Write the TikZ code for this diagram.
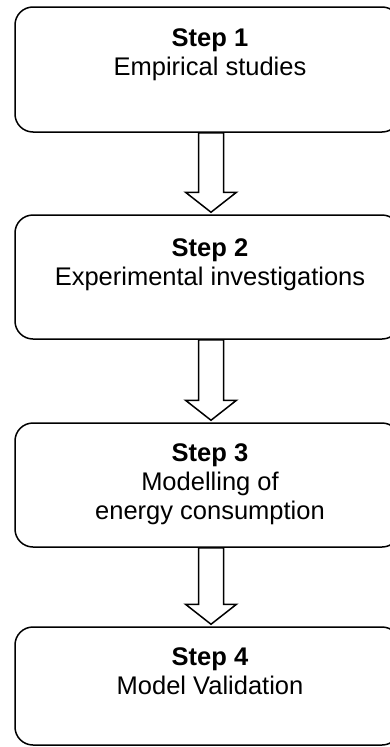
\documentclass[tikz,border=0pt]{standalone}
\usepackage{fontspec}
\setmainfont{Liberation Sans}
\usetikzlibrary{calc}

\tikzset{
  stepbox/.style={draw, line width=1.5pt, rounded corners=18pt,
    minimum width=385pt, inner sep=0pt},
  steptext/.style={anchor=north, align=center, inner sep=0pt,
    font=\fontsize{25.5}{29}\selectfont},
  blockarrow/.style={draw, line width=1.5pt, fill=white, line join=miter}
}

\begin{document}
\begin{tikzpicture}[x=1pt,y=-1pt]
\useasboundingbox (0,0) rectangle (390,747);

% the four steps
\node[stepbox, minimum height=125pt] (s1) at (207.5,69.5) {};
\node[stepbox, minimum height=124pt] (s2) at (207.5,277) {};
\node[stepbox, minimum height=124pt] (s3) at (207.5,485) {};
\node[stepbox, minimum height=118pt] (s4) at (207.5,686) {};

\node[steptext] (t1) at ($(s1.north)+(2.5,22)$) {\textbf{Step 1}\\Empirical studies};
\node[steptext] (t2) at ($(s2.north)+(2.5,24)$) {\textbf{Step 2}\\Experimental investigations};
\node[steptext] (t3) at ($(s3.north)+(2.5,21)$) {\textbf{Step 3}\\Modelling of\\energy consumption};
\node[steptext] (t4) at ($(s4.north)+(2.5,21)$) {\textbf{Step 4}\\Model Validation};

% hollow arrows between the steps
\foreach \a/\b in {s1/s2, s2/s3, s3/s4}
  \draw[blockarrow] let \p1=(\a.south), \p2=(\b.north) in
    (\x1-9,\y1) -- (\x1-9,\y2+22) -- (\x1-22,\y2+22) -- (\x1+3.5,\y2+2)
    -- (\x1+29,\y2+22) -- (\x1+16,\y2+22) -- (\x1+16,\y1) -- cycle;
\end{tikzpicture}
\end{document}
